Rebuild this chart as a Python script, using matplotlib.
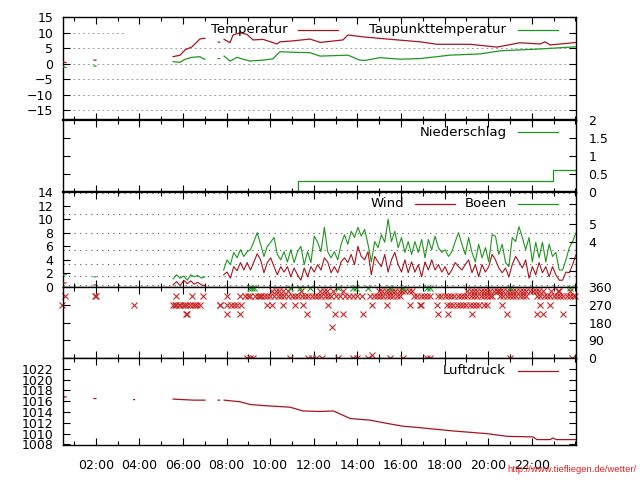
import numpy as np
import matplotlib
matplotlib.use('Agg')
import matplotlib.pyplot as plt
from matplotlib.ticker import MultipleLocator, FixedLocator

nan = np.nan

# ---------------- data (hours of day) ----------------
temp_t = [0.50, 0.64, nan, 1.92, 2.01, nan, 5.55, 5.87, 6.10, 6.42, 6.78, 6.92, 7.01, nan,
          7.62, 7.68, nan,
          7.89, 8.16, 8.30, 8.62, 8.94, 9.22, 9.67, 10.32, 10.45, 11.05, 11.83, 12.29, 13.34,
          13.57, 14.26, 15.36, 16.88, 17.66, 19.17, 20.41, 21.46, 22.38, 22.61, 22.84, 23.62, 24.03]
temp_v = [0.5, 0.3, nan, 1.1, 1.1, nan, 2.2, 2.7, 4.4, 5.4, 7.9, 8.1, 8.1, nan,
          6.9, 6.9, nan,
          7.8, 6.7, 9.2, 9.9, 9.4, 7.6, 7.8, 6.3, 7.0, 7.3, 7.9, 6.8, 7.6,
          9.2, 8.6, 7.9, 7.0, 6.2, 6.2, 5.3, 6.7, 6.3, 7.0, 6.0, 6.5, 6.8]

dew_t = [0.50, 0.64, nan, 1.92, 2.01, nan, 5.55, 5.87, 6.10, 6.42, 6.78, 6.92, 7.01, nan,
         7.62, 7.68, nan,
         7.89, 8.16, 8.48, 8.76, 9.08, 9.67, 10.13, 10.45, 11.23, 11.83, 12.29, 13.57, 14.12,
         14.35, 15.04, 15.96, 16.88, 18.25, 19.63, 20.55, 22.38, 24.03]
dew_v = [-1.0, -1.3, nan, -0.8, -0.8, nan, 0.6, 0.4, 1.4, 2.0, 2.2, 1.6, 1.4, nan,
         1.6, 1.6, nan,
         2.4, 0.8, 2.0, 1.4, 0.8, 1.1, 1.5, 3.8, 3.6, 3.5, 2.4, 2.7, 1.1,
         1.0, 1.9, 1.4, 1.6, 2.7, 3.1, 4.1, 4.7, 5.4]

rain_t = [11.25, 11.28, 22.97, 24.03]
rain_v = [0.0, 0.3, 0.6, 0.6]

# early wind fragments
wind_early_t = [0.50, 0.64, nan, 1.92, 2.01, nan, 5.55, 5.71, 5.87, 6.04, 6.20, 6.36, 6.52, 6.68, 6.85, 7.01]
wind_early_v = [0.6, 0.6, nan, 0.3, 0.3, nan, 0.3, 0.8, 0.2, 1.0, 0.5, 0.9, 0.4, 0.7, 0.3, 0.2]
gust_early_v = [1.8, 1.8, nan, 1.5, 1.5, nan, 1.2, 1.8, 1.3, 1.6, 1.0, 1.8, 1.5, 1.7, 1.3, 1.5]

wind_start, wind_end = 7.87, 24.03
gust_v = [2.5, 4.0, 3.3, 5.1, 4.3, 5.5, 4.5, 5.2, 5.5, 6.7, 8.0, 6.3, 4.5, 6.0, 6.6, 7.3, 4.8,
          4.0, 5.2, 3.7, 5.5, 3.6, 5.2, 6.0, 3.3, 5.2, 3.6, 7.5, 6.6, 5.2, 8.8, 5.2, 4.3,
          5.2, 4.0, 6.3, 7.7, 6.3, 8.2, 7.3, 8.8, 7.5, 8.5, 6.3, 3.7, 6.7, 5.8, 7.7, 6.6, 10.0,
          6.7, 8.2, 5.8, 7.3, 5.1, 6.7, 4.8, 6.7, 5.1, 7.0, 4.3, 7.0, 5.5, 7.5, 5.8, 5.1, 5.5,
          4.5, 5.2, 6.7, 8.0,
          6.3, 4.8, 7.3, 5.1, 3.7, 6.3, 4.3, 5.8, 3.7, 7.7, 7.5, 4.8, 6.3, 3.6, 3.0, 7.3, 6.7,
          8.9, 7.3, 5.5, 7.3, 3.7, 6.6, 4.3, 6.6, 3.7, 6.3, 4.5, 5.1, 2.5, 2.5, 4.0, 5.8, 6.7, 8.0]
wind_v = [1.8, 2.2, 1.3, 3.0, 2.4, 3.6, 2.5, 3.6, 2.5, 3.7, 4.9, 4.0, 2.1, 3.6, 4.3, 3.0, 1.8,
          3.0, 2.2, 3.0, 1.5, 2.8, 1.8, 1.0, 2.8, 1.5, 3.0, 2.2, 3.3, 2.5, 4.3, 3.7, 2.1,
          3.0, 2.1, 3.7, 4.3, 3.6, 4.8, 3.3, 6.0, 4.5, 4.0, 5.2, 1.8, 4.5, 3.7, 3.0, 4.8, 2.2,
          4.0, 5.1, 3.3, 2.2, 4.0, 2.1, 3.7, 2.2, 3.3, 1.5, 3.7, 2.5, 4.0, 2.5, 3.3, 2.2, 3.0,
          1.8, 2.5, 3.6, 3.0,
          2.5, 3.3, 4.0, 2.1, 3.3, 1.5, 3.3, 2.2, 3.0, 4.8, 4.0, 2.8, 2.1, 2.8, 1.5, 3.3, 4.5,
          3.7, 2.8, 4.0, 1.3, 3.0, 1.8, 3.6, 2.1, 3.0, 1.5, 3.0, 1.8, 1.0, 1.0, 2.2, 2.1, 3.3, 4.8]

beaufort_thresholds = [0.3, 1.6, 3.4, 5.5, 8.0, 10.8, 13.9]
beaufort_numbers = [2, 3, 4, 5, 6]
beaufort_labels = ['', '', '4', '5', '']

# wind direction (red) -- time, degrees
dir_337_t = [10.1, 10.25, 10.4, 10.6, 10.8, 11.4, 12.3, 12.45, 12.6, 12.9, 13.35, 15.0, 15.15,
             15.3, 15.45, 15.6, 15.75, 15.9, 16.05, 16.2, 16.35, 16.5, 19.05, 19.2, 19.35, 19.5,
             19.65, 19.8, 19.95, 20.1, 20.25, 20.4, 20.45, 20.55, 20.7, 20.85, 21.0, 21.15, 21.3,
             21.45, 21.6, 21.75, 21.9, 22.05, 22.2, 22.35, 22.5, 22.9, 23.2, 23.25, 23.75]
dir_315_t = [0.59, 1.97, 2.0, 5.68, 6.42, 6.92, 8.02, 8.62, 8.85, 9.0, 9.1, 9.3, 9.45, 9.54,
             9.58, 9.7, 9.85, 10.0, 10.2, 10.35, 10.5, 10.65, 10.8, 11.0, 11.15, 11.3, 11.45,
             11.6, 11.75, 11.9, 12.05, 12.2, 12.35, 12.5, 12.65, 12.8, 13.0, 13.2, 13.45, 13.6,
             13.8, 14.0, 14.2, 14.6, 14.75, 14.9, 15.05, 15.2, 15.35, 15.5, 15.65, 15.8, 15.95,
             16.6, 16.75, 16.9, 17.05, 17.2, 17.35, 17.7, 17.85, 18.0, 18.15, 18.3, 18.45, 18.6,
             18.75, 18.9, 19.05, 19.2, 19.35, 19.5, 19.65, 19.8, 19.95, 20.1, 20.2, 20.55, 20.7,
             20.85, 21.0, 21.15, 21.3, 21.45, 21.6, 21.75, 22.25, 22.4, 22.55, 22.7, 22.85, 23.0,
             23.15, 23.3, 23.45, 23.6, 23.75, 23.9, 24.0]
dir_270_t = [0.45, 3.76, 5.55, 5.62, 5.7, 5.8, 5.87, 6.0, 6.1, 6.2, 6.33, 6.45, 6.56, 6.65, 6.78,
             7.68, 7.72, 8.02, 8.2, 8.35, 8.5, 8.65, 9.86, 10.09, 10.59, 11.14, 11.51, 12.66,
             14.67, 15.36, 16.42, 16.88, 16.92, 17.66, 18.11, 18.25, 18.4, 18.55, 18.7, 18.85,
             19.0, 19.15, 19.3, 19.45, 19.6, 19.8, 19.95, 20.64, 22.38, 22.84]
dir_225_t = [6.14, 6.18, 8.02, 8.62, 11.69, 12.98, 13.34, 14.26, 17.70, 18.16, 19.26, 20.87,
             22.24, 22.52, 23.44]
dir_157_t = [12.84]
dir_0_t = [8.94, 9.08, 9.22, 10.91, 11.74, 11.92, 12.11, 12.38, 13.11, 13.80, 13.99, 14.49,
           15.50, 16.10, 17.20, 17.34, 21.00, 23.85]
dir_15_t = [14.67]
gdir_t = [9.08, 9.17, 9.25, 10.91, 11.37, 11.83, 13.11, 13.80, 13.95, 14.49, 15.50, 16.10,
          17.20, 17.34, 21.00, 23.76]

press_t = [0.50, 0.64, nan, 1.92, 2.01, nan, 3.74, 3.78, nan, 5.55, 6.00, 6.50, 7.01, nan,
           7.62, 7.68, nan,
           7.89, 8.62, 9.08, 9.67, 10.91, 11.51, 12.29, 12.89, 13.07, 13.67, 14.58, 15.36,
           16.05, 16.88, 18.39, 19.95, 20.87, 22.06, 22.24, 22.84, 22.98, 23.12, 24.03]
press_v = [1016.8, 1016.8, nan, 1016.5, 1016.5, nan, 1016.3, 1016.3, nan, 1016.4, 1016.3,
           1016.2, 1016.2, nan, 1016.2, 1016.2, nan,
           1016.2, 1015.9, 1015.4, 1015.2, 1014.9, 1014.2, 1014.1, 1014.2, 1013.9, 1012.8,
           1012.5, 1011.9, 1011.4, 1011.1, 1010.5, 1010.0, 1009.5, 1009.4, 1008.9, 1008.9,
           1009.2, 1008.9, 1008.9]

hour_ticks = [2, 4, 6, 8, 10, 12, 14, 16, 18, 20, 22]
hour_labels = ['02:00', '04:00', '06:00', '08:00', '10:00', '12:00', '14:00', '16:00',
               '18:00', '20:00', '22:00']

# ---------------- styling ----------------
RED = '#a8141e'
GREEN = '#1e961e'
XRED = '#c62828'
XGREEN = '#2aa02a'
plt.rcParams['font.family'] = ['DejaVu Sans']

fig = plt.figure(figsize=(6.4, 4.8), dpi=100)
L, W = 63 / 640, 513 / 640


def mk(top, bot):
    return fig.add_axes([L, 1 - bot / 480, W, (bot - top) / 480])


ax1 = mk(17, 120)
ax2 = mk(120, 192)
ax3 = mk(192, 287)
ax4 = mk(287, 358)
ax5 = mk(358, 445)
axes = [ax1, ax2, ax3, ax4, ax5]
XMIN, XMAX = 0.5, 24.03

for ax in axes:
    ax.set_xlim(XMIN, XMAX)
    ax.xaxis.set_major_locator(FixedLocator(hour_ticks))
    ax.xaxis.set_minor_locator(MultipleLocator(1))
    ax.tick_params(which='both', direction='in', top=True, bottom=True, left=True, right=True,
                   width=0.8, labelsize=9)
    ax.tick_params(which='major', length=5)
    ax.tick_params(which='minor', length=3)
    ax.tick_params(axis='y', which='both', pad=7)
    for s in ax.spines.values():
        s.set_linewidth(1.0)
    if ax is not ax5:
        ax.tick_params(labelbottom=False)

ax1.spines['bottom'].set_linewidth(1.6)
ax2.spines['top'].set_linewidth(1.6)
ax2.spines['bottom'].set_linewidth(1.6)
ax3.spines['top'].set_linewidth(1.6)

ax5.set_xticks(hour_ticks)
ax5.set_xticklabels(hour_labels)
ax5.tick_params(axis='x', pad=10)


def leg(ax, y, items):
    for text, xr, x0, x1, col in items:
        ax.text(xr, y, text, transform=ax.transAxes, ha='right', va='center', fontsize=9.5,
                zorder=6)
        ax.plot([x0, x1], [y, y], transform=ax.transAxes, color=col, lw=0.9, zorder=6,
                clip_on=False)


def fx(px):
    return (px - 63) / 513.0


# Panel 1: temperature
ax1.set_ylim(-18.2, 15)
ax1.set_yticks([-15, -10, -5, 0, 5, 10, 15])
for g in [-15, -10, -5, 0, 5]:
    ax1.axhline(g, color='#a0a0a0', lw=0.7, ls=(0, (2, 3)), zorder=1)
ax1.hlines(10, XMIN, 3.34, color='#a0a0a0', lw=0.7, ls=(0, (2, 3)), zorder=1)
ax1.plot(temp_t, temp_v, color=RED, lw=0.9, zorder=3)
ax1.plot(dew_t, dew_v, color=GREEN, lw=0.9, zorder=3)
leg(ax1, 0.874, [('Temperatur', fx(288), fx(298), fx(338), RED),
                 ('Taupunkttemperatur', fx(506), fx(518), fx(558), GREEN)])

# Panel 2: precipitation
ax2.set_ylim(0, 2)
ax2.set_yticks([0, 0.5, 1, 1.5, 2])
ax2.set_yticklabels(['0', '0.5', '1', '1.5', '2'])
ax2.tick_params(axis='y', labelleft=False, labelright=True, pad=9)
ax2.plot(rain_t, rain_v, color=GREEN, lw=0.9, drawstyle='steps-post')
leg(ax2, 0.833, [('Niederschlag', fx(507), fx(518), fx(558), GREEN)])

# Panel 3: wind
ax3.set_ylim(0, 14)
ax3.set_yticks([0, 2, 4, 6, 8, 10, 12, 14])
ax3.tick_params(axis='y', right=False)
for g in beaufort_thresholds:
    ax3.axhline(g, color='#555555', lw=0.8, ls=(0, (1, 4)), zorder=1)
wt = np.linspace(wind_start, wind_end, len(wind_v))
gt = np.linspace(wind_start, wind_end, len(gust_v))
ax3.plot(wind_early_t, gust_early_v, color=GREEN, lw=0.8, zorder=3)
ax3.plot(wind_early_t, wind_early_v, color=RED, lw=0.8, zorder=3)
ax3.plot(gt, gust_v, color=GREEN, lw=0.8, zorder=3)
ax3.plot(wt, wind_v, color=RED, lw=0.8, zorder=4)
ax3b = ax3.twinx()
ax3b.set_ylim(0, 14)
ax3b.set_yticks([0.836 * b ** 1.5 for b in beaufort_numbers])
ax3b.set_yticklabels(beaufort_labels)
ax3b.tick_params(axis='y', direction='in', length=5, width=0.8, labelsize=9, pad=9)
for s in ax3b.spines.values():
    s.set_visible(False)
leg(ax3, 0.874, [('Wind', fx(404), fx(415), fx(455), RED),
                 ('Boeen', fx(507), fx(518), fx(558), GREEN)])

# Panel 4: wind direction
ax4.set_ylim(0, 360)
ax4.set_yticks([0, 90, 180, 270, 360])
ax4.tick_params(axis='y', labelleft=False, labelright=True, pad=9)
mk_kw = dict(ls='none', marker='x', ms=5, mew=0.8, clip_on=False)
for tl, d in [(dir_337_t, 337.5), (dir_315_t, 315), (dir_270_t, 270), (dir_225_t, 225),
              (dir_157_t, 157.5), (dir_0_t, 0), (dir_15_t, 15)]:
    ax4.plot(tl, [d] * len(tl), color=XRED, **mk_kw)
ax4.plot(gdir_t, [356] * len(gdir_t), color=XGREEN, **mk_kw)

# Panel 5: pressure
ax5.set_ylim(1007.9, 1024)
ax5.set_yticks([1008, 1010, 1012, 1014, 1016, 1018, 1020, 1022])
ax5.plot(press_t, press_v, color=RED, lw=0.9)
leg(ax5, 0.851, [('Luftdruck', fx(506), fx(518), fx(558), RED)])

fig.text(0.995, 0.021, 'http://www.tiefliegen.de/wetter/', ha='right', va='center',
         color='#e82020', fontsize=6.8, family=['Liberation Sans', 'DejaVu Sans'])

fig.savefig('out.png', dpi=100)
